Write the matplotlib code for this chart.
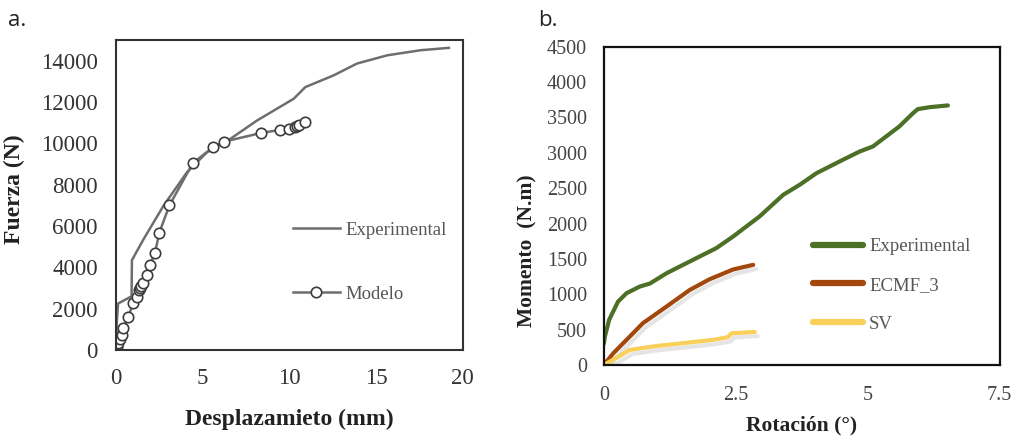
import matplotlib
matplotlib.use('Agg')
import matplotlib.pyplot as plt
import matplotlib.patheffects as pe

# a. Fuerza vs desplazamiento
exp_x = [0.0, 0.05, 0.12, 0.9, 0.92, 1.58, 2.73, 4.09, 5.24, 6.59, 8.13, 10.25, 10.92, 12.56, 13.9, 15.65, 17.57, 19.2]
exp_y = [0, 1400, 2250, 2600, 4350, 5350, 6970, 8600, 9570, 10220, 11110, 12165, 12730, 13300, 13870, 14270, 14515, 14630]

mod_x = [0.0, 0.05, 0.13, 0.25, 0.33, 0.42, 0.71, 1.0, 1.2, 1.35, 1.39, 1.45, 1.58, 1.77, 1.97, 2.25, 2.5, 3.08,
         4.43, 5.59, 6.24, 8.38, 9.48, 9.96, 10.3, 10.45, 10.54, 10.92]
mod_y = [0, 150, 325, 550, 730, 1055, 1620, 2270, 2590, 2900, 3000, 3100, 3245, 3650, 4140, 4700, 5680, 7000,
         9050, 9810, 10090, 10510, 10660, 10700, 10820, 10870, 10910, 11060]

# b. Momento vs rotación
g_x = [0.0, 0.02, 0.1, 0.27, 0.43, 0.68, 0.87, 1.19, 1.69, 2.13, 2.45, 2.95, 3.4, 3.71, 4.03, 4.53, 4.85, 5.1, 5.35,
       5.6, 5.86, 5.95, 6.18, 6.52]
g_y = [300, 400, 637, 896, 1014, 1108, 1150, 1297, 1486, 1651, 1816, 2099, 2406, 2547, 2712, 2901, 3019, 3090, 3231,
       3373, 3561, 3618, 3646, 3670]

b_x = [0.0, 0.18, 0.43, 0.74, 1.19, 1.63, 2.0, 2.45, 2.83]
b_y = [0, 165, 354, 590, 826, 1061, 1210, 1350, 1415]

s_x = [0.0, 0.22, 0.49, 0.97, 1.5, 2.07, 2.35, 2.42, 2.86]
s_y = [0, 90, 212, 265, 307, 354, 392, 448, 465]

serif = ['Liberation Serif', 'DejaVu Serif']
plt.rcParams['font.family'] = serif

fig = plt.figure(figsize=(10.2, 4.37), dpi=100)

# ---- panel a
ax1 = fig.add_axes([0.1137, 0.199, 0.340, 0.709])
ax1.plot(exp_x, exp_y, color='#6e6e6e', lw=1.8, label='Experimental')
ax1.plot(mod_x, mod_y, color='#6e6e6e', lw=1.8, marker='o', markersize=7.5,
         markerfacecolor='white', markeredgecolor='#3c3c3c', markeredgewidth=1.2, label='Modelo')
ax1.set_xlim(0, 20)
ax1.set_ylim(0, 15000)
ax1.set_xticks([0, 5, 10, 15, 20])
ax1.set_yticks(range(0, 14001, 2000))
ax1.tick_params(length=0, labelsize=16.5, colors='#333333')
ax1.tick_params(axis='x', pad=13)
ax1.tick_params(axis='y', pad=13)
for s in ax1.spines.values():
    s.set_color('#333333')
    s.set_linewidth(1.5)
ax1.set_ylabel('Fuerza (N)', fontsize=17, fontweight='bold', color='#222222')
ax1.set_xlabel('Desplazamieto (mm)', fontsize=17, fontweight='bold', color='#222222')
ax1.yaxis.set_label_coords(-0.262, 0.52)
ax1.xaxis.set_label_coords(0.5, -0.19)
leg1 = ax1.legend(loc='center left', bbox_to_anchor=(0.51, 0.284), frameon=False, fontsize=13.5,
                  handlelength=2.5, handletextpad=0.3, labelspacing=2.5, borderpad=0, borderaxespad=0)
for t in leg1.get_texts():
    t.set_color('#555555')

# ---- panel b
ax2 = fig.add_axes([0.592, 0.165, 0.388, 0.728])
ax2.plot(g_x, g_y, color='#4b7026', lw=3, solid_capstyle='round', label='Experimental')
shadow = [pe.SimpleLineShadow(offset=(2, -3), shadow_color='#999999', alpha=0.25), pe.Normal()]
ax2.plot(b_x, b_y, color='#a3480c', lw=3, solid_capstyle='round', label='ECMF_3', path_effects=shadow)
ax2.plot(s_x, s_y, color='#f8d05a', lw=3, solid_capstyle='round', label='SV', path_effects=shadow)
ax2.set_xlim(0, 7.5)
ax2.set_ylim(0, 4500)
ax2.set_xticks([0, 2.5, 5, 7.5])
ax2.set_xticklabels(['0', '2.5', '5', '7.5'])
ax2.set_yticks(range(0, 4501, 500))
ax2.tick_params(length=0, labelsize=14.5, colors='#444444')
ax2.tick_params(axis='x', pad=15)
ax2.tick_params(axis='y', pad=12)
for s in ax2.spines.values():
    s.set_color('#111111')
    s.set_linewidth(1.6)
ax2.set_ylabel('Momento  (N.m)', fontsize=15.5, fontweight='bold', color='#222222')
ax2.set_xlabel('Rotación (°)', fontsize=15.5, fontweight='bold', color='#222222')
ax2.yaxis.set_label_coords(-0.167, 0.36)
ax2.xaxis.set_label_coords(0.5, -0.16)
leg2 = ax2.legend(loc='center left', bbox_to_anchor=(0.528, 0.25), frameon=False, fontsize=13.5,
                  handlelength=2.7, handletextpad=0.3, labelspacing=1.15, borderpad=0, borderaxespad=0)
for line in leg2.get_lines():
    line.set_linewidth(4.5)
    line.set_path_effects([])
for t in leg2.get_texts():
    t.set_color('#555555')

fig.text(0.008, 0.94, 'a.', fontsize=16, family='Open Sans', color='#222222')
fig.text(0.528, 0.94, 'b.', fontsize=16, family='Open Sans', color='#222222')

fig.savefig('out.png', dpi=100)
